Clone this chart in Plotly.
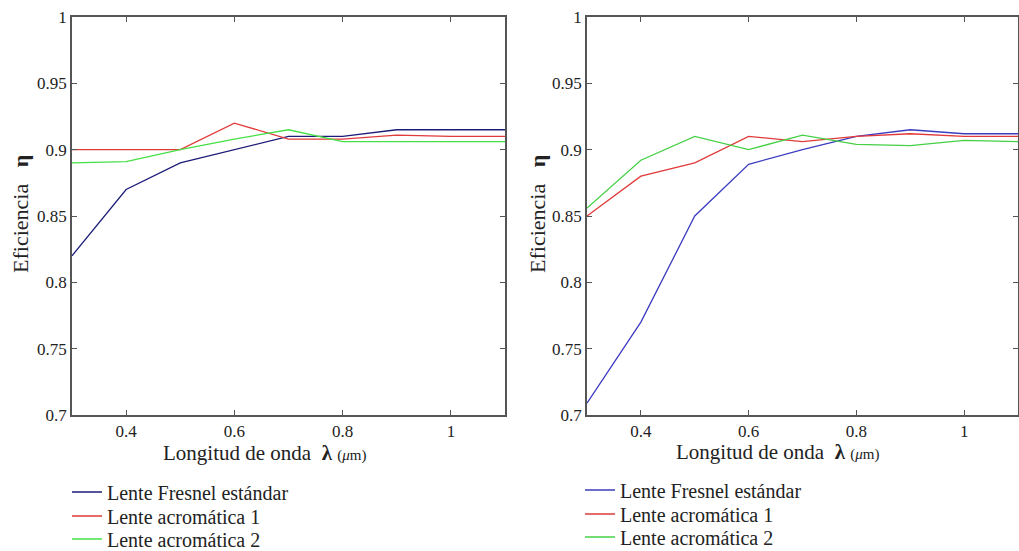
import plotly.graph_objects as go

# ── Data ───────────────────────────────────────────────────────────────────────
wavelength = [0.3, 0.4, 0.5, 0.6, 0.7, 0.8, 0.9, 1.0, 1.1]

left_fresnel = [0.820, 0.870, 0.890, 0.900, 0.910, 0.910, 0.915, 0.915, 0.915]
left_acro1   = [0.900, 0.900, 0.900, 0.920, 0.908, 0.908, 0.911, 0.910, 0.910]
left_acro2   = [0.890, 0.891, 0.900, 0.908, 0.915, 0.906, 0.906, 0.906, 0.906]

right_fresnel = [0.709, 0.770, 0.850, 0.889, 0.900, 0.910, 0.915, 0.912, 0.912]
right_acro1   = [0.850, 0.880, 0.890, 0.910, 0.906, 0.910, 0.912, 0.910, 0.910]
right_acro2   = [0.856, 0.892, 0.910, 0.900, 0.911, 0.904, 0.903, 0.907, 0.906]

names = ["Lente Fresnel estándar", "Lente acromática 1", "Lente acromática 2"]
y_ticks = [0.7, 0.75, 0.8, 0.85, 0.9, 0.95, 1.0]
y_ticklabels = ["0.7", "0.75", "0.8", "0.85", "0.9", "0.95", "1"]
x_ticks = [0.4, 0.6, 0.8, 1.0]
x_ticklabels = ["0.4", "0.6", "0.8", "1"]

LEFT_COLORS = ["#1c1c78", "#e03a3a", "#45e045"]
RIGHT_COLORS = ["#3c3cc0", "#e03a3a", "#45d045"]

FONT = "Liberation Serif"
FRAME = "#555555"
TXT = "#222222"
W, H = 1019, 551

fig = go.Figure()

# one legend per entry, so that rows sit exactly where the reference puts them
left_rows = [492, 516, 539]
right_rows = [490, 514, 537]
panels = [
    ([left_fresnel, left_acro1, left_acro2], LEFT_COLORS, "x", "y", 67, left_rows, 1),
    ([right_fresnel, right_acro1, right_acro2], RIGHT_COLORS, "x2", "y2", 580, right_rows, 4),
]
legends = {}
for series_list, colors, xa, ya, lx, rows, lg0 in panels:
    for i, (series, color, name) in enumerate(zip(series_list, colors, names)):
        lg = "legend" if lg0 + i == 1 else f"legend{lg0 + i}"
        fig.add_trace(go.Scatter(x=wavelength, y=series, name=name, mode="lines",
                                 line=dict(color=color, width=1.3),
                                 xaxis=xa, yaxis=ya, legend=lg))
        legends[lg] = dict(
            x=lx / W, y=1 - rows[i] / H, xanchor="left", yanchor="middle",
            bgcolor="rgba(0,0,0,0)", borderwidth=0, itemwidth=30,
            font=dict(family=FONT, size=20, color=TXT),
        )

ydom = [1 - 415 / H, 1 - 17 / H]

xaxis_common = dict(
    range=[0.3, 1.1], tickvals=x_ticks, ticktext=x_ticklabels, automargin=False,
    ticks="inside", ticklen=5, tickcolor=FRAME, showline=True, linecolor=FRAME,
    linewidth=1.5, mirror="ticks", showgrid=False, zeroline=False,
    tickfont=dict(family=FONT, size=17, color=TXT),
)
yaxis_common = dict(
    range=[0.7, 1.0], tickvals=y_ticks, ticktext=y_ticklabels, domain=ydom, automargin=False,
    ticks="inside", ticklen=5, tickcolor=FRAME, showline=True, linecolor=FRAME,
    linewidth=1.5, mirror="ticks", showgrid=False, zeroline=False,
    tickfont=dict(family=FONT, size=17, color=TXT),
)

x_title = "Longitud de onda  <b>λ</b> <span style='font-size:15px'>(<i>μ</i>m)</span>"
y_title = "Eficiencia   <b>η</b>"
annotations = []
for cx, cy in [(264, 453), (777, 452)]:
    annotations.append(dict(text=x_title, x=cx / W, y=1 - cy / H, xref="paper", yref="paper",
                            xanchor="center", yanchor="middle", showarrow=False,
                            font=dict(family=FONT, size=21, color=TXT)))
for cx in [20, 537]:
    annotations.append(dict(text=y_title, x=cx / W, y=1 - 214 / H, xref="paper", yref="paper",
                            xanchor="center", yanchor="middle", showarrow=False, textangle=-90,
                            font=dict(family=FONT, size=22, color=TXT)))

fig.update_layout(
    width=W, height=H,
    paper_bgcolor="white", plot_bgcolor="white",
    margin=dict(l=0, r=0, t=0, b=0, autoexpand=False),
    xaxis=dict(xaxis_common, domain=[72 / W, 505 / W], anchor="y"),
    yaxis=dict(yaxis_common, anchor="x"),
    xaxis2=dict(xaxis_common, domain=[587 / W, 1018 / W], anchor="y2"),
    yaxis2=dict(yaxis_common, anchor="x2"),
    annotations=annotations,
    showlegend=True,
    **legends,
)

fig.write_html("out.html", config={"displayModeBar": False},
               post_script="document.body.style.margin='0px';")
